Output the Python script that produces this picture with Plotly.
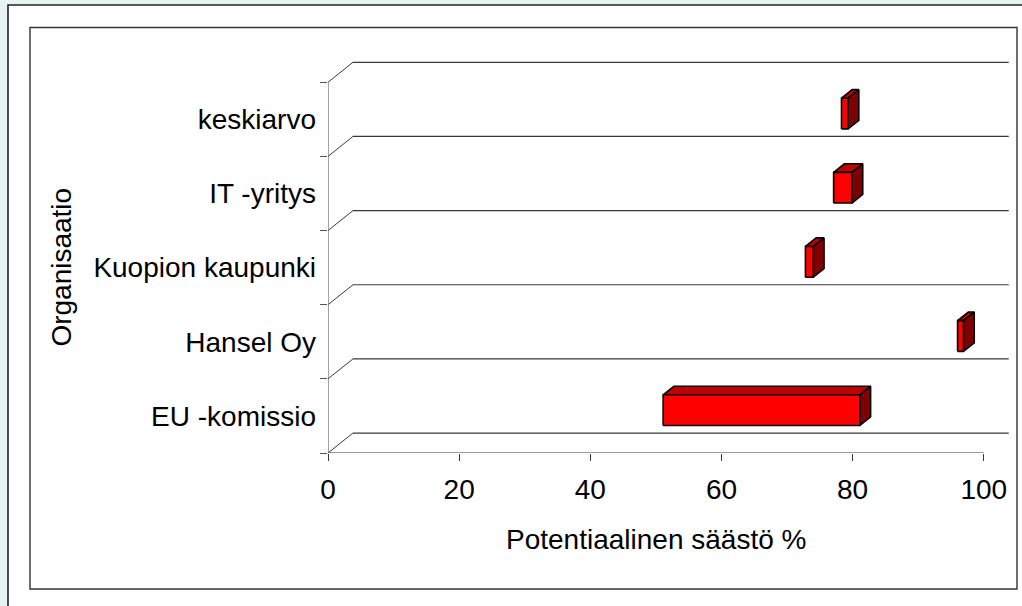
import plotly.graph_objects as go

# ---------------- data ----------------
categories = ["EU -komissio", "Hansel Oy", "Kuopion kaupunki", "IT -yritys", "keskiarvo"]
low_values = [50.0, 94.9, 71.7, 76.0, 77.2]
high_values = [80.0, 95.8, 72.9, 78.8, 78.2]
x_tick_values = [0, 20, 40, 60, 80, 100]
x_title = "Potentiaalinen säästö %"
y_title = "Organisaatio"

# ---------------- geometry ----------------
W, H = 1022, 606
ML, MR, MT, MB = 328, 12, 60, 153
XMAX = 104.0
YMAX = 5.3
DX, DY = 3.81, 0.269          # 3D depth of the chart (data units)
F1, F2 = 0.29, 0.72           # bar front/back position within depth
BAR_H = 0.414
PW, PH = W - ML - MR, H - MT - MB
FONT = "Liberation Sans, Arial, sans-serif"
LINE = "#3a3a3a"


def px2paper_x(px):
    return (px - ML) / PW


def px2paper_y(py):
    return (H - MB - py) / PH


fig = go.Figure()

# bars as 3D boxes
for i, (lo, hi) in enumerate(zip(low_values, high_values)):
    c = i + 0.5
    x0, x1 = lo + F1 * DX, hi + F1 * DX
    y0, y1 = c - BAR_H / 2 + F1 * DY, c + BAR_H / 2 + F1 * DY
    bx, by = (F2 - F1) * DX, (F2 - F1) * DY
    common = dict(mode="lines", fill="toself", line=dict(color="black", width=1.6),
                  hoverinfo="skip", showlegend=False)
    fig.add_trace(go.Scatter(x=[x0, x1, x1 + bx, x0 + bx, x0],
                             y=[y1, y1, y1 + by, y1 + by, y1],
                             fillcolor="#C00000", **common))
    fig.add_trace(go.Scatter(x=[x1, x1 + bx, x1 + bx, x1, x1],
                             y=[y0, y0 + by, y1 + by, y1, y0],
                             fillcolor="#800000", **common))
    fig.add_trace(go.Scatter(x=[x0, x1, x1, x0, x0],
                             y=[y0, y0, y1, y1, y0],
                             fillcolor="#FF0000", **common))

shapes = []
# back wall gridlines + diagonals
for k in range(len(categories) + 1):
    shapes.append(dict(type="line", xref="x", yref="y", x0=0, y0=k, x1=DX, y1=k + DY,
                       line=dict(color=LINE, width=1), layer="below"))
    shapes.append(dict(type="line", xref="x", yref="y", x0=DX, y0=k + DY, x1=100 + DX, y1=k + DY,
                       line=dict(color=LINE, width=1.2), layer="below"))
# front axes
shapes.append(dict(type="line", xref="x", yref="y", x0=0, y0=0, x1=100, y1=0,
                   line=dict(color=LINE, width=1.2), layer="below"))
shapes.append(dict(type="line", xref="x", yref="y", x0=0, y0=0, x1=0, y1=len(categories),
                   line=dict(color="#666666", width=1.2), layer="below"))

# slide background strips and frames
shapes.append(dict(type="rect", xref="paper", yref="paper",
                   x0=px2paper_x(-5), x1=px2paper_x(8), y0=px2paper_y(620), y1=px2paper_y(-5),
                   fillcolor="#e6f3f0", line=dict(width=0), layer="below"))
shapes.append(dict(type="rect", xref="paper", yref="paper",
                   x0=px2paper_x(-5), x1=px2paper_x(1030), y0=px2paper_y(5), y1=px2paper_y(-5),
                   fillcolor="#e6f3f0", line=dict(width=0), layer="below"))
shapes.append(dict(type="rect", xref="paper", yref="paper",
                   x0=px2paper_x(8), x1=px2paper_x(1040), y0=px2paper_y(630), y1=px2paper_y(5),
                   fillcolor="rgba(0,0,0,0)", line=dict(color="#222222", width=1.6), layer="below"))
shapes.append(dict(type="rect", xref="paper", yref="paper",
                   x0=px2paper_x(30), x1=px2paper_x(1017), y0=px2paper_y(589), y1=px2paper_y(27.5),
                   fillcolor="rgba(0,0,0,0)", line=dict(color="#333333", width=1.4), layer="below"))

annotations = [
    dict(text=x_title, xref="x", x=50, yref="paper", y=px2paper_y(539), xanchor="center",
         yanchor="middle", showarrow=False, font=dict(family=FONT, size=28, color="black")),
    dict(text=y_title, xref="paper", x=px2paper_x(62), yref="y", y=len(categories) / 2,
         xanchor="center", yanchor="middle", textangle=-90, showarrow=False,
         font=dict(family=FONT, size=28, color="black")),
]

fig.update_layout(
    width=W, height=H,
    margin=dict(l=ML, r=MR, t=MT, b=MB, pad=0),
    paper_bgcolor="white", plot_bgcolor="white",
    showlegend=False, hovermode=False,
    shapes=shapes, annotations=annotations,
    xaxis=dict(range=[0, XMAX], tickvals=x_tick_values, ticktext=[str(v) for v in x_tick_values],
               ticks="outside", ticklen=7, tickwidth=1, tickcolor=LINE,
               showgrid=False, zeroline=False, showline=False, fixedrange=True,
               ticklabelstandoff=4,
               tickfont=dict(family=FONT, size=28, color="black")),
    yaxis=dict(range=[0, YMAX], tickvals=[i + 0.5 for i in range(len(categories))],
               ticktext=categories, ticks="", showgrid=False, zeroline=False, showline=False,
               fixedrange=True, ticklabelstandoff=11,
               minor=dict(tickvals=list(range(len(categories) + 1)), ticks="outside",
                          ticklen=7, tickwidth=1, tickcolor="#555555", showgrid=False),
               tickfont=dict(family=FONT, size=28, color="black")),
)

fig.write_html("out.html", config={"displayModeBar": False},
               post_script="document.body.style.margin='0';document.body.style.overflow='hidden';")
